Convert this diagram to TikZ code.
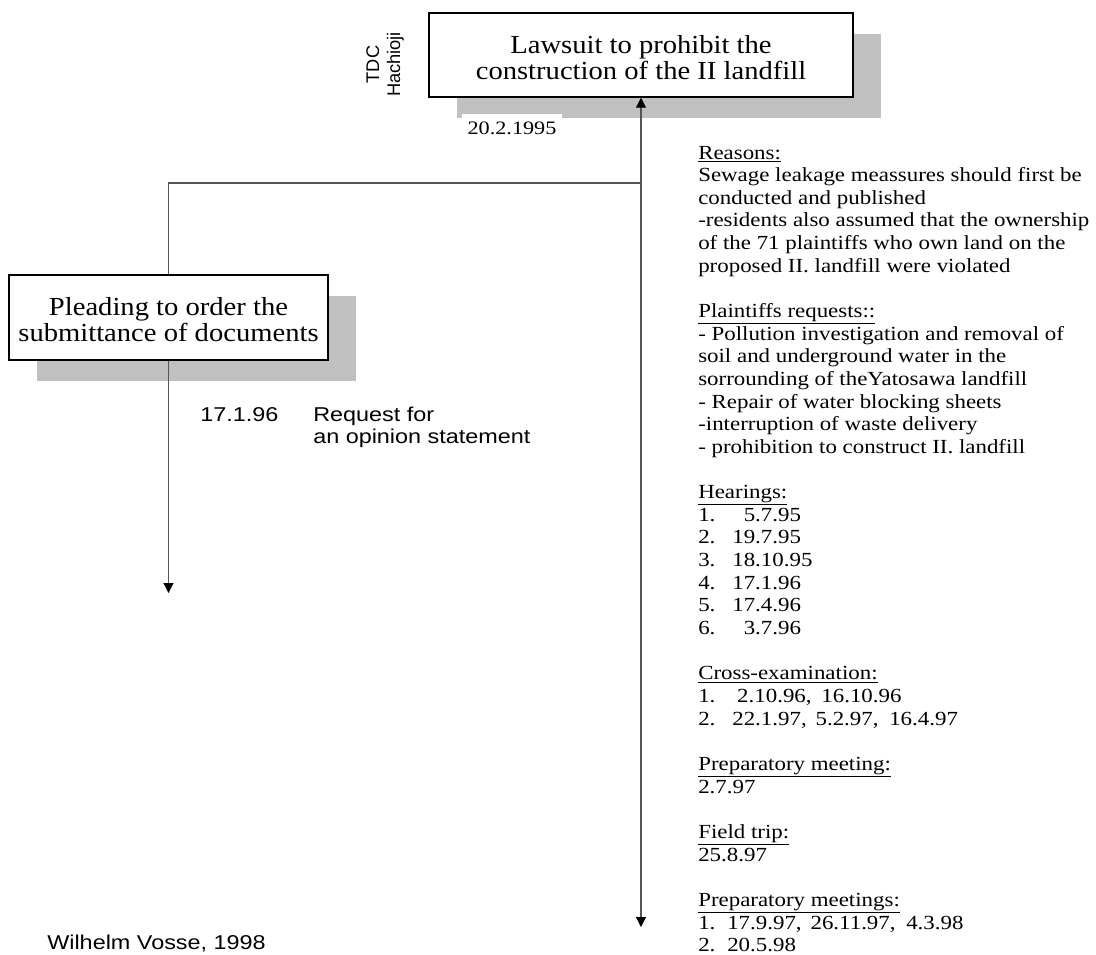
\documentclass[tikz,border=0pt]{standalone}
\usepackage{fontspec}
\setmainfont{Liberation Serif}
\setsansfont{Liberation Sans}
\usetikzlibrary{arrows.meta,shadows}
\definecolor{shadowgray}{HTML}{C0C0C0}
\definecolor{linegray}{HTML}{555555}
\newcommand{\wide}[1]{\scalebox{1.145}[1]{#1}}
\newcommand{\sanswide}[1]{\scalebox{1.17}[1]{#1}}
\newcommand{\boxwide}[1]{\scalebox{1.1}[1]{#1}}
\begin{document}
\begin{tikzpicture}[x=0.75pt,y=-0.75pt,
  box/.style={draw=black, line width=1.1pt, fill=white, inner sep=0pt,
    font=\fontsize{19.5}{18.75}\selectfont,
    drop shadow={shadow xshift=21pt, shadow yshift=-16pt, fill=shadowgray, opacity=1, draw=none}},
  conn/.style={draw=linegray, line width=0.8pt},
  tipend/.style={-{Triangle[width=7.5pt,length=7.5pt,color=black]}},
  tipboth/.style={{Triangle[width=7.5pt,length=7.5pt,color=black]}-{Triangle[width=7.5pt,length=7.5pt,color=black]}},
  rblock/.style={inner sep=0pt, anchor=base west, font=\fontsize{15}{16.97}\selectfont},
  sblock/.style={inner sep=0pt, anchor=base west, font=\sffamily\fontsize{15}{16.5}\selectfont},
  rot/.style={inner sep=0pt, rotate=90, anchor=base, font=\sffamily\fontsize{13.7}{16}\selectfont}
]
\useasboundingbox (0,0) rectangle (1096,954);

% boxes
\node[box, minimum width=318pt, minimum height=63pt] (top) at (641,55)
  {\boxwide{\begin{tabular}{@{}c@{}}\rule{0pt}{22.5pt}Lawsuit to prohibit the\\construction of the II landfill\end{tabular}}};
\node[box, minimum width=239.25pt, minimum height=63.75pt] (plead) at (168.5,317.5)
  {\boxwide{\begin{tabular}{@{}c@{}}\rule{0pt}{22.5pt}Pleading to order the\\submittance of documents\end{tabular}}};

% date label
\node[fill=white, inner sep=0pt, minimum width=75pt, minimum height=21pt,
      font=\fontsize{14.25}{16.97}\selectfont] (date) at (512,128) {\sanswide{20.2.1995}};

% rotated labels
\node[rot] (tdc) at (379,64.5) {TDC};
\node[rot] (hach) at (400,64.5) {Hachioji};

% connectors
\coordinate (mainend) at (641,927);
\coordinate (branch) at (641,183);
\coordinate (pleadend) at (168.5,593);
\draw[conn, tipboth] (top.south) -- (mainend);
\draw[conn] (branch) -| (plead.north);
\draw[conn, tipend] (plead.south) -- (pleadend);

% left notes
\node[sblock] (d1) at (200,421) {\sanswide{17.1.96}};
\node[sblock] (req) at (313,421) {\sanswide{\begin{tabular}[t]{@{}l@{}}Request for\\an opinion statement\end{tabular}}};

% right notes
\node[rblock] (notes) at (698,159) {\wide{\begin{tabular}[t]{@{}l@{}}
\underline{Reasons:}\\
Sewage leakage meassures should first be\\
conducted and published\\
-residents also assumed that the ownership\\
of the 71 plaintiffs who own land on the\\
proposed II. landfill were violated\\
\\
\underline{Plaintiffs requests::}\\
- Pollution investigation and removal of\\
soil and underground water in the\\
sorrounding of theYatosawa landfill\\
- Repair of water blocking sheets\\
-interruption of waste delivery\\
- prohibition to construct II. landfill\\
\\
\underline{Hearings:}\\
\makebox[22.3pt][l]{1.}\phantom{1}5.7.95\\
\makebox[22.3pt][l]{2.}19.7.95\\
\makebox[22.3pt][l]{3.}18.10.95\\
\makebox[22.3pt][l]{4.}17.1.96\\
\makebox[22.3pt][l]{5.}17.4.96\\
\makebox[22.3pt][l]{6.}\phantom{1}3.7.96\\
\\
\underline{Cross-examination:}\\
\makebox[25.5pt][l]{1.}2.10.96,\hspace{6.4pt}16.10.96\\
\makebox[22.3pt][l]{2.}22.1.97,\hspace{5.8pt}5.2.97,\hspace{7pt}16.4.97\\
\\
\underline{Preparatory meeting:}\\
2.7.97\\
\\
\underline{Field trip:}\\
25.8.97\\
\\
\underline{Preparatory meetings:}\\
\makebox[19pt][l]{1.}17.9.97,\hspace{5.8pt}26.11.97,\hspace{7pt}4.3.98\\
\makebox[19pt][l]{2.}20.5.98
\end{tabular}}};

% footer
\node[sblock] (author) at (47,949) {\sanswide{Wilhelm Vosse, 1998}};
\end{tikzpicture}
\end{document}
